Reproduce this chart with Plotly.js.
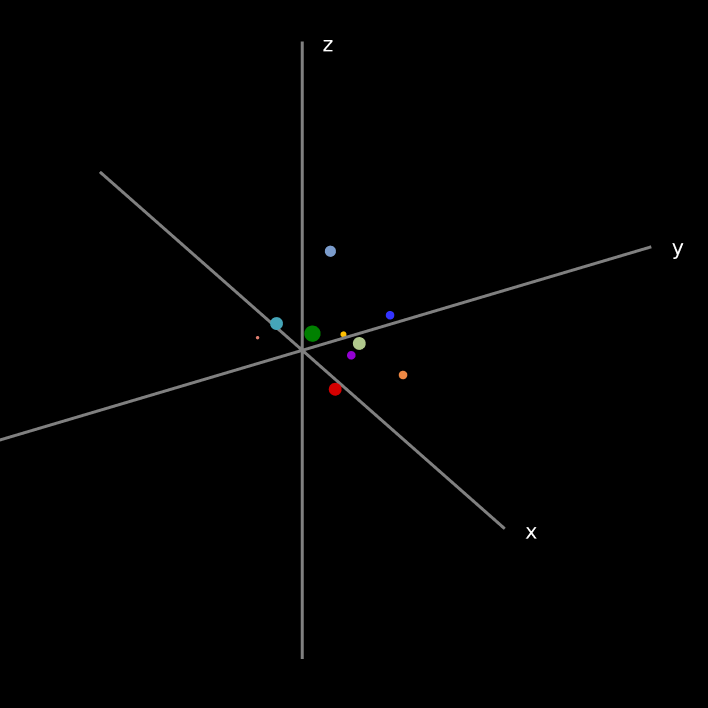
<!DOCTYPE html>
<html>
<head>
<meta charset="utf-8">
<script src="https://cdn.plot.ly/plotly-3.0.1.min.js"></script>
<style>html,body{margin:0;padding:0;background:#000;}#chart{width:708px;height:708px;}</style>
</head>
<body>
<div id="chart"></div>
<script>
// Axis extent (data units)
const axisLength = 10;
const axisLabels = ["x", "y", "z"];

// Points
const pointNames = ["A", "B", "C", "D", "E", "F", "G", "H", "I", "J"];
const pointX = [0.07, -0.16, 0.06, -1.09, -0.16, 0.41, 0.26, 0.81, 2.28, 2.03];
const pointY = [0.76, -0.65, 0.25, -0.65, 1.27, 1.39, 2.36, 0.93, 1.56, -0.24];
const pointZ = [3.0, 1.0, 0.5, 0.0, 0.0, 0.0, 0.5, 0.0, 0.0, 0.0];
const pointSizes = [13, 15, 19, 4, 7, 15, 10, 10, 10, 15];
const pointColors = ["#7b9ccc", "#45a5b8", "#008000", "#e07f70", "#ffbf00", "#b0c88c", "#3333ff", "#9400d3", "#ee8844", "#d40000"];

const L = axisLength;
const labelDrop = 0.13;
const lineStyle = {color: "#808080", width: 6};
const traces = [
  {type: "scatter3d", mode: "lines", x: [-L, L], y: [0, 0], z: [0, 0], line: lineStyle, hoverinfo: "skip", showlegend: false},
  {type: "scatter3d", mode: "lines", x: [0, 0], y: [-L, L], z: [0, 0], line: lineStyle, hoverinfo: "skip", showlegend: false},
  {type: "scatter3d", mode: "lines", x: [0, 0], y: [0, 0], z: [-L, L], line: lineStyle, hoverinfo: "skip", showlegend: false},
  {type: "scatter3d", mode: "text", x: [L, 0, 0], y: [0, L, 0], z: [-labelDrop, -labelDrop, L - labelDrop], text: axisLabels,
   textposition: "middle right", textfont: {color: "#ffffff", size: 21, family: "DejaVu Sans"}, hoverinfo: "skip", showlegend: false},
  {type: "scatter3d", mode: "markers", x: pointX, y: pointY, z: pointZ, text: pointNames,
   marker: {size: pointSizes, color: pointColors, opacity: 1, line: {width: 0}}, showlegend: false}
];

const d = 2.0;
const cx = 0.072, cy = 0.127, cz = -0.013;
const layout = {
  width: 708, height: 708,
  paper_bgcolor: "#000000",
  plot_bgcolor: "#000000",
  margin: {l: 0, r: 0, t: 0, b: 0},
  showlegend: false,
  scene: {
    bgcolor: "#000000",
    xaxis: {visible: false, range: [-L, L]},
    yaxis: {visible: false, range: [-L, L]},
    zaxis: {visible: false, range: [-L, L]},
    aspectmode: "manual",
    aspectratio: {x: 2.28, y: 2.28, z: 2.03},
    camera: {
      projection: {type: "orthographic"},
      up: {x: 0, y: 0, z: 1},
      center: {x: cx, y: cy, z: cz},
      eye: {x: 0.743 * d + cx, y: -0.431 * d + cy, z: 0.511 * d + cz}
    }
  }
};
Plotly.newPlot("chart", traces, layout, {displayModeBar: false});
</script>
</body>
</html>
